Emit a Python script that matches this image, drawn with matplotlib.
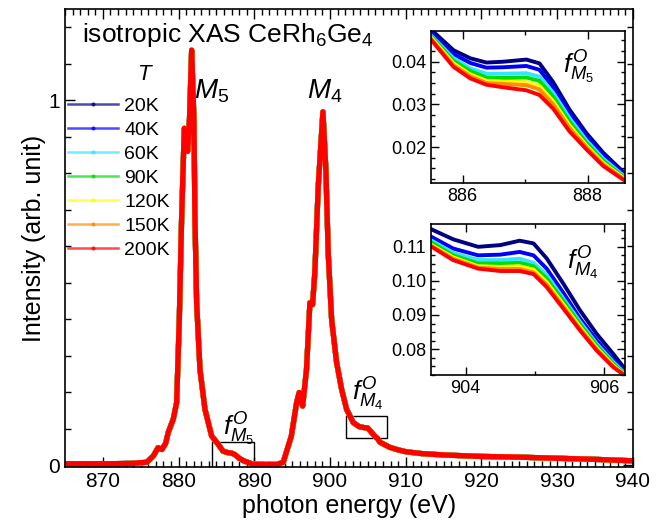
import matplotlib
matplotlib.use('Agg')
import matplotlib.pyplot as plt
import matplotlib.ticker as ticker
from matplotlib.lines import Line2D
from matplotlib.patches import Rectangle

# ======== Data ========
temps = ['20K', '40K', '60K', '90K', '120K', '150K', '200K']
colors = ['#000080', '#0000FF', '#33E6FF', '#00DD00', '#FFFF00', '#FF8C00', '#FF0000']

# full spectrum (all temperatures overlap at this scale)
energy = [865, 868, 871, 874, 875.8, 876.66, 877.3, 877.8, 878.3, 878.64, 879.3, 879.75,
          880.1, 880.4, 880.76, 881.0, 881.2, 881.45, 881.73, 882.03, 882.17, 882.39,
          882.83, 883.49, 884.37, 885.25, 885.85, 886.38, 887.02, 887.45, 887.98, 888.6,
          889.0, 889.8, 891, 893, 893.83, 894.9, 895.6, 895.94, 896.39, 896.9, 897.35,
          897.7, 898.0, 898.45, 899.07, 899.46, 899.77, 900.22, 900.88, 901.54, 902.2,
          903.07, 903.82, 904.5, 904.98, 905.41, 905.89, 906.28, 906.6, 907.9, 909, 910,
          912, 915, 920, 925, 930, 935, 940]
intensity = [0.004, 0.004, 0.004, 0.005, 0.008, 0.025, 0.048, 0.043, 0.06, 0.09, 0.126, 0.172,
             0.40, 0.672, 0.923, 0.90, 0.86, 0.95, 1.137, 0.945, 0.672, 0.445,
             0.262, 0.153, 0.08, 0.057, 0.039, 0.035, 0.033, 0.029, 0.0195, 0.012,
             0.009, 0.003, 0.002, 0.002, 0.008, 0.08, 0.172, 0.199, 0.162, 0.262, 0.445,
             0.44, 0.527, 0.763, 0.968, 0.809, 0.581, 0.399, 0.281, 0.208, 0.153,
             0.117, 0.106, 0.103, 0.102, 0.092, 0.080, 0.073, 0.063, 0.049, 0.042, 0.037,
             0.032, 0.028, 0.024, 0.022, 0.019, 0.016, 0.012]

# inset M5 (f0 region)
e_m5 = [885.5, 885.85, 886.12, 886.38, 886.65, 887.02, 887.23, 887.45, 887.71, 887.98, 888.25, 888.6]
m5 = {
    '20K':  [0.0474, 0.0427, 0.0408, 0.0398, 0.0400, 0.0405, 0.0396, 0.0352, 0.0288, 0.0233, 0.0187, 0.0138],
    '40K':  [0.0467, 0.0418, 0.0397, 0.0386, 0.0387, 0.0390, 0.0381, 0.0340, 0.0279, 0.0226, 0.0181, 0.0134],
    '60K':  [0.0460, 0.0408, 0.0384, 0.0372, 0.0372, 0.0373, 0.0365, 0.0327, 0.0268, 0.0216, 0.0173, 0.0130],
    '90K':  [0.0458, 0.0402, 0.0378, 0.0363, 0.0362, 0.0363, 0.0355, 0.0318, 0.0260, 0.0210, 0.0168, 0.0127],
    '120K': [0.0455, 0.0396, 0.0370, 0.0355, 0.0353, 0.0352, 0.0343, 0.0307, 0.0251, 0.0204, 0.0163, 0.0125],
    '150K': [0.0452, 0.0392, 0.0366, 0.0350, 0.0348, 0.0345, 0.0335, 0.0300, 0.0245, 0.0200, 0.0160, 0.0123],
    '200K': [0.0450, 0.0388, 0.0361, 0.0346, 0.0340, 0.0333, 0.0322, 0.0290, 0.0237, 0.0195, 0.0156, 0.0121],
}

# inset M4 (f0 region)
e_m4 = [903.51, 903.82, 904.18, 904.5, 904.78, 904.98, 905.17, 905.41, 905.65, 905.89, 906.13, 906.28]
m4 = {
    '20K':  [0.1151, 0.1122, 0.1100, 0.1105, 0.1118, 0.1110, 0.1066, 0.0992, 0.0914, 0.0845, 0.0786, 0.0747],
    '40K':  [0.1129, 0.1095, 0.1075, 0.1077, 0.1085, 0.1075, 0.1036, 0.0965, 0.0890, 0.0826, 0.0769, 0.0737],
    '60K':  [0.1118, 0.1082, 0.1061, 0.1061, 0.1065, 0.1053, 0.1017, 0.0948, 0.0880, 0.0816, 0.0762, 0.0732],
    '90K':  [0.1112, 0.1075, 0.1051, 0.1051, 0.1053, 0.1043, 0.1007, 0.0941, 0.0873, 0.0811, 0.0757, 0.0729],
    '120K': [0.1105, 0.1069, 0.1043, 0.1041, 0.1043, 0.1033, 0.0996, 0.0931, 0.0865, 0.0804, 0.0752, 0.0727],
    '150K': [0.1102, 0.1065, 0.1039, 0.1035, 0.1035, 0.1025, 0.0989, 0.0925, 0.0860, 0.0800, 0.0749, 0.0726],
    '200K': [0.1100, 0.1061, 0.1036, 0.1029, 0.1029, 0.1020, 0.0982, 0.0919, 0.0855, 0.0796, 0.0747, 0.0725],
}

# ======== Style ========
plt.rcParams.update({
    'font.family': ['Liberation Sans', 'DejaVu Sans'],
    'mathtext.fontset': 'custom',
    'mathtext.rm': 'Liberation Sans',
    'mathtext.it': 'Liberation Sans:italic',
    'xtick.direction': 'in', 'ytick.direction': 'in',
    'xtick.top': True, 'ytick.right': True,
})

fig = plt.figure(figsize=(6.68, 5.31), dpi=100)
ax = fig.add_axes([0.0973, 0.1205, 0.850, 0.8625])

for t, c in zip(temps, colors):
    ax.plot(energy, intensity, color=c, lw=3.8, solid_joinstyle='round')

ax.set_xlim(865, 940)
ax.set_ylim(-0.005, 1.25)
ax.xaxis.set_major_locator(ticker.MultipleLocator(10))
ax.xaxis.set_minor_locator(ticker.MultipleLocator(1))
ax.yaxis.set_major_locator(ticker.MultipleLocator(1))
ax.yaxis.set_minor_locator(ticker.MultipleLocator(0.1))
ax.tick_params(which='major', length=7, width=1, labelsize=15)
ax.tick_params(which='minor', length=4, width=1)
for s in ax.spines.values():
    s.set_linewidth(1.2)
ax.set_xlabel('photon energy (eV)', fontsize=18, labelpad=2)
ax.set_ylabel('Intensity (arb. unit)', fontsize=18, labelpad=2)

ax.text(0.03, 0.943, r'isotropic XAS CeRh$_6$Ge$_4$', transform=ax.transAxes,
        fontsize=19, va='center', ha='left')
ax.text(0.141, 0.856, 'T', transform=ax.transAxes, fontsize=16, style='italic',
        ha='center', va='center')
ax.text(884.4, 1.025, r'$M_5$', fontsize=20, ha='center', va='center')
ax.text(899.3, 1.025, r'$M_4$', fontsize=20, ha='center', va='center')
ax.text(888.0, 0.098, r'$f^{O}_{M_5}$', fontsize=19, ha='center', va='center')
ax.text(905.0, 0.194, r'$f^{O}_{M_4}$', fontsize=19, ha='center', va='center')

ax.add_patch(Rectangle((884.45, -0.005), 5.45, 0.068, fill=False, lw=1, ec='black'))
ax.add_patch(Rectangle((902.07, 0.074), 5.41, 0.06, fill=False, lw=1, ec='black'))

handles = [Line2D([], [], color=c, lw=1.8, alpha=0.7, marker='.', ms=4,
                  markerfacecolor=c, markeredgecolor=c) for c in colors]
ax.legend(handles, temps, loc='upper left', bbox_to_anchor=(0.005, 0.807),
          frameon=False, fontsize=14, handlelength=2.6, handletextpad=0.3,
          labelspacing=0.33, borderpad=0, borderaxespad=0)

# ======== Insets ========
ins1 = fig.add_axes([0.6452, 0.6554, 0.2904, 0.2863])
ins2 = fig.add_axes([0.6452, 0.2938, 0.2904, 0.2844])

for t, c in zip(temps, colors):
    ins1.plot(e_m5, m5[t], color=c, lw=2.8)
    ins2.plot(e_m4, m4[t], color=c, lw=2.8)

ins1.set_xlim(885.49, 888.6)
ins1.set_ylim(0.0116, 0.0472)
ins2.set_xlim(903.5, 906.3)
ins2.set_ylim(0.0724, 0.1167)

for a in (ins1, ins2):
    a.xaxis.set_major_locator(ticker.MultipleLocator(2))
    a.xaxis.set_minor_locator(ticker.MultipleLocator(1))
    a.yaxis.set_major_locator(ticker.MultipleLocator(0.01))
    a.yaxis.set_minor_locator(ticker.MultipleLocator(0.0025))
    a.tick_params(which='major', length=6, width=1, labelsize=13)
    a.tick_params(which='minor', length=3, width=1)
    for s in a.spines.values():
        s.set_linewidth(1.2)

ins1.yaxis.set_major_formatter(ticker.FormatStrFormatter('%.2f'))
ins2.yaxis.set_major_formatter(ticker.FormatStrFormatter('%.2f'))

ins1.text(0.76, 0.76, r'$f^{O}_{M_5}$', transform=ins1.transAxes, fontsize=19,
          ha='center', va='center')
ins2.text(0.78, 0.74, r'$f^{O}_{M_4}$', transform=ins2.transAxes, fontsize=19,
          ha='center', va='center')

fig.savefig('out.png', dpi=100)
